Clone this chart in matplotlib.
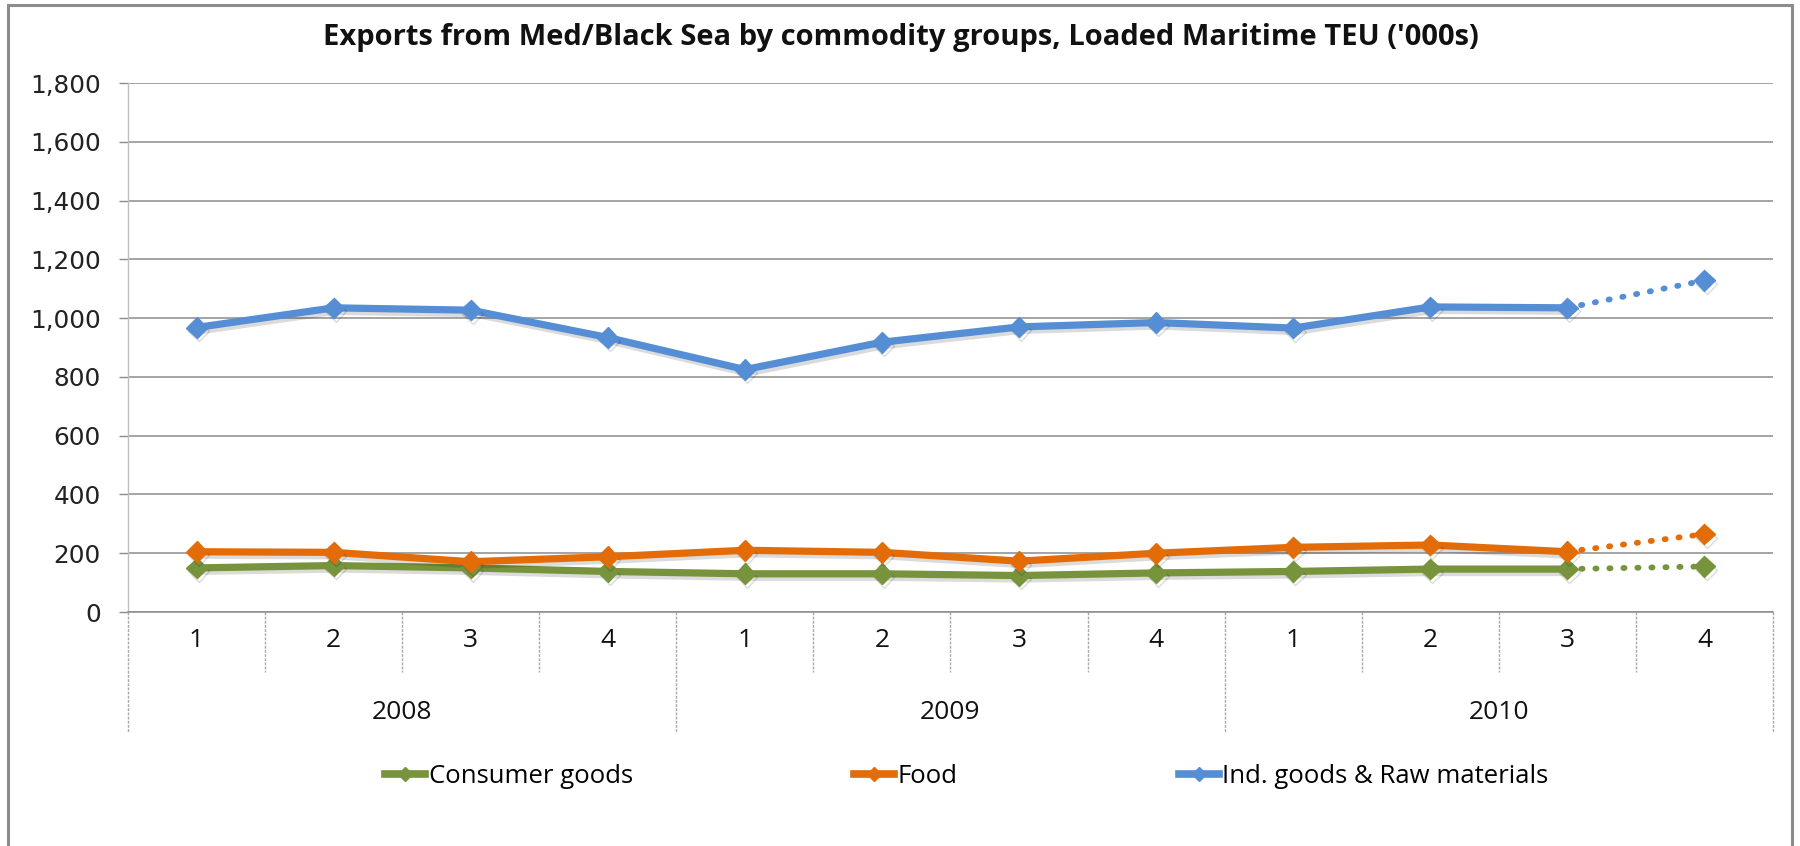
import matplotlib
matplotlib.use("Agg")
import matplotlib.pyplot as plt
import matplotlib.patheffects as pe
from matplotlib.lines import Line2D
from matplotlib.patches import Rectangle
from matplotlib.transforms import blended_transform_factory
import numpy as np

# ---- data ('000 TEU, loaded maritime exports) ----
years = ["2008", "2009", "2010"]
quarters = ["1", "2", "3", "4"]
consumer_goods = [150, 158, 150, 138, 130, 130, 124, 133, 138, 146, 146, 155]
food = [205, 203, 171, 188, 210, 203, 173, 200, 220, 228, 205, 265]
ind_goods_raw = [968, 1035, 1027, 934, 825, 918, 970, 985, 966, 1038, 1035, 1128]
series_names = ["Consumer goods", "Food", "Ind. goods & Raw materials"]
series_colors = ["#77933C", "#E36C09", "#558ED5"]
n_actual = 11  # last quarter is an estimate, drawn dotted

title = "Exports from Med/Black Sea by commodity groups, Loaded Maritime TEU ('000s)"

W, H, DPI = 1800, 846, 100
fig = plt.figure(figsize=(W / DPI, H / DPI), dpi=DPI)
fig.patch.set_facecolor("white")

# outer chart frame
fig.patches.append(Rectangle((8 / W, -0.05), (1792 - 8) / W, 1.05 - 5 / H,
                             transform=fig.transFigure, fill=False,
                             edgecolor="#8C8C8C", linewidth=2.2))

left, right, top, bottom = 128, 1773, 83, 612
ax = fig.add_axes([left / W, 1 - bottom / H, (right - left) / W, (bottom - top) / H])

n = len(years) * len(quarters)
x = np.arange(n)

shadow = [pe.SimpleLineShadow(offset=(1.5, -2.5), shadow_color="#000000", alpha=0.14),
          pe.Normal()]

handles = []
for vals, name, col in zip([consumer_goods, food, ind_goods_raw], series_names, series_colors):
    vals = np.asarray(vals, dtype=float)
    ax.plot(x[:n_actual], vals[:n_actual], color=col, lw=5.2, solid_joinstyle="round",
            zorder=3, path_effects=shadow)
    ax.plot(x[n_actual - 1:], vals[n_actual - 1:], color=col, lw=4.2,
            linestyle=(0, (0.2, 2.2)), dash_capstyle="round", zorder=3)
    ax.plot(x, vals, linestyle="none", marker="D", markersize=10.5, color=col,
            markeredgecolor=col, zorder=4, path_effects=shadow)
    handles.append(Line2D([], [], color=col, lw=5.5, marker="D", markersize=7,
                          markeredgecolor=col))

ax.set_xlim(-0.5, n - 0.5)
ax.set_ylim(0, 1800)
ax.set_yticks(np.arange(0, 1801, 200))
ax.set_yticklabels([f"{v:,}" for v in range(0, 1801, 200)],
                   fontsize=17.8, family="DejaVu Sans", color="#222222")
ax.tick_params(axis="y", length=6.5, width=1, color="#8C8C8C", pad=13)
ax.set_xticks([])
ax.grid(axis="y", color="#8C8C8C", linewidth=1.1)
ax.set_axisbelow(True)
for s in ["top", "right"]:
    ax.spines[s].set_visible(False)
ax.spines["left"].set_color("#C0C0C0")
ax.spines["left"].set_linewidth(1)
ax.spines["bottom"].set_color("#8C8C8C")
ax.spines["bottom"].set_linewidth(1.1)

# two-level category axis
tr = blended_transform_factory(ax.transData, ax.transAxes)
ph = bottom - top
q_drop = -(672 - bottom) / ph
y_drop = -(732 - bottom) / ph
for k in range(n + 1):
    ylow = y_drop if k % len(quarters) == 0 else q_drop
    ax.add_line(Line2D([k - 0.5, k - 0.5], [0, ylow], transform=tr, clip_on=False,
                       color="#A8A8A8", lw=1, linestyle=(0, (2, 1))))
for k in range(n):
    ax.text(k, -(640 - bottom) / ph, quarters[k % len(quarters)], transform=tr,
            ha="center", va="center", fontsize=19, family="Open Sans", color="#111111")
for j, yr in enumerate(years):
    ax.text(j * len(quarters) + (len(quarters) - 1) / 2, -(712 - bottom) / ph, yr,
            transform=tr, ha="center", va="center", fontsize=19, family="Open Sans",
            color="#111111")

fig.text(901 / W, 1 - 38 / H, title, ha="center", va="center", fontsize=21,
         fontweight="bold", family="Open Sans", color="#111111")

fig.legend(handles, series_names, loc="center", bbox_to_anchor=(967 / W, 1 - 776 / H),
           ncol=3, frameon=False, handlelength=1.55, handletextpad=0.15,
           columnspacing=8.6, prop={"family": "Open Sans", "size": 18.5})

fig.savefig("out.png", dpi=DPI, facecolor="white")
